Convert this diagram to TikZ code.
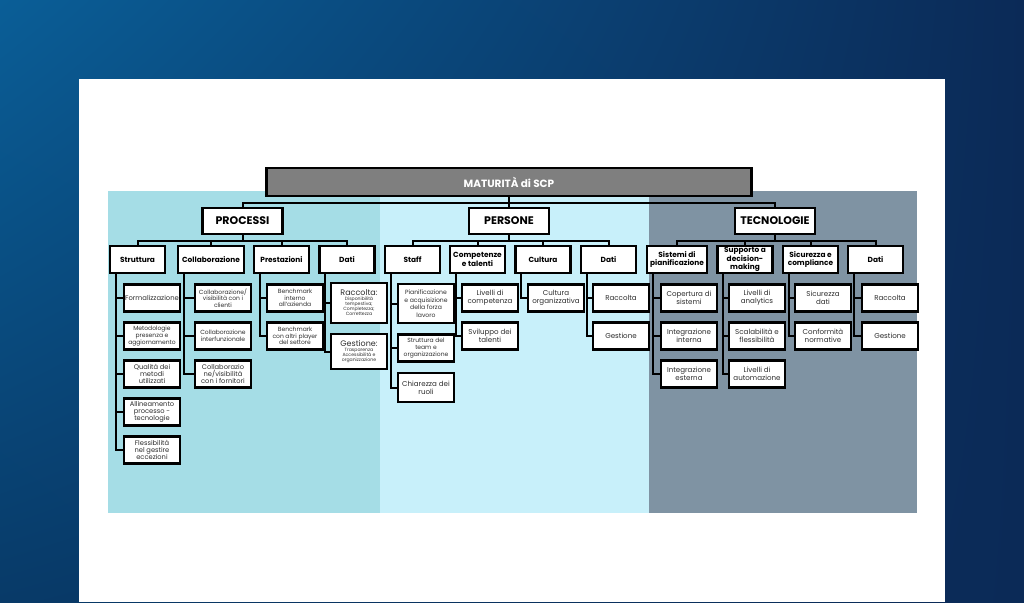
\documentclass[tikz,border=0pt]{standalone}
\usepackage{fontspec}
\setmainfont{Poppins}
\usetikzlibrary{positioning,shadings}
\definecolor{fondoA}{HTML}{0A5E97}
\definecolor{fondoB}{HTML}{0B2A57}
\definecolor{fondoC}{HTML}{083A68}
\definecolor{bandaProc}{HTML}{A5DDE6}
\definecolor{bandaPers}{HTML}{C8F0FA}
\definecolor{bandaTec}{HTML}{7F93A3}
\definecolor{grigioSCP}{HTML}{7F7F7F}
\definecolor{testo}{HTML}{2E2E2E}
\begin{document}
\begin{tikzpicture}[x=1pt,y=-1pt,
    linea/.style={line width=2pt,black},
    radice/.style={draw,line width=2.5pt,fill=grigioSCP,text=white,minimum width=485,minimum height=28,
      font=\bfseries\fontsize{10.5}{11}\selectfont},
    area/.style={draw,line width=2.5pt,fill=white,minimum width=80,minimum height=26,
      font=\bfseries\fontsize{11}{12}\selectfont},
    ramo/.style={draw,line width=2.3pt,fill=white,minimum width=#1,minimum height=27,inner sep=1pt,
      align=center,font=\bfseries\fontsize{7.4}{7.6}\selectfont},
    ramo/.default=55,
    voce/.style={draw,line width=2.3pt,fill=white,minimum width=56,minimum height=27,inner sep=1pt,
      align=center,text=testo,font=\fontsize{7.1}{8}\selectfont},
    fitto/.style={font=\fontsize{6}{6.8}\selectfont},
    medio/.style={font=\fontsize{6.7}{7.2}\selectfont}]
    % Sfondo sfumato e riquadro bianco
    \shade[upper left=fondoA,upper right=fondoB,lower left=fondoC,lower right=fondoB] (0,0) rectangle (1024,602);
    \fill[white] (79,79) rectangle (945,602);

    % Fasce colorate
    \fill[bandaProc] (108,191) rectangle (380,513);
    \fill[bandaPers] (380,191) rectangle (649,513);
    \fill[bandaTec] (649,191) rectangle (917,513);

    % Radice e tre aree
    \node[radice] (hdr) at (509,182) {MATURITÀ di SCP};
    \node[area] (proc) at (242.5,221) {PROCESSI};
    \node[area] (pers) at (509,221) {PERSONE};
    \node[area] (tec) at (775,221) {TECNOLOGIE};
    \foreach \n in {proc,pers,tec}
    \draw[linea] (hdr.south) -- ++(0,6) -| (\n.north);

    % Rami di secondo livello
    \node[ramo] (s1) at (137.5,259.5) {Struttura};
    \node[ramo=66] (s2) at (211,259.5) {Collaborazione};
    \node[ramo] (s3) at (281.5,259.5) {Prestazioni};
    \node[ramo] (s4) at (347,259.5) {Dati};
    \node[ramo] (p1) at (412.5,259.5) {Staff};
    \node[ramo] (p2) at (477.5,259.5) {Competenze\\e talenti};
    \node[ramo] (p3) at (543,259.5) {Cultura};
    \node[ramo] (p4) at (608.5,259.5) {Dati};
    \node[ramo=60] (t1) at (677,259.5) {Sistemi di\\pianificazione};
    \node[ramo] (t2) at (745,259.5) {Supporto a\\decision-\\making};
    \node[ramo] (t3) at (810.5,259.5) {Sicurezza e\\compliance};
    \node[ramo] (t4) at (875.5,259.5) {Dati};
    \foreach \n in {s1,s2,s3,s4}
    \draw[linea] (proc.south) -- ++(0,6) -| (\n.north);
    \foreach \n in {p1,p2,p3,p4}
    \draw[linea] (pers.south) -- ++(0,6) -| (\n.north);
    \foreach \n in {t1,t2,t3,t4}
    \draw[linea] (tec.south) -- ++(0,6) -| (\n.north);

    % Voci dei processi
    \node[voce,font=\fontsize{6.8}{7}\selectfont] (a1) at (152,298) {Formalizzazione};
    \foreach \n/\y/\s/\t in {a2/336/fitto/{Metodologie\\presenza e\\aggiornamento},
      a3/374/medio/{Qualità dei\\metodi\\utilizzati},
      a4/412/medio/{Allineamento\\processo -\\tecnologie},
      a5/450/medio/{Flessibilità\\nel gestire\\eccezioni}}
    \node[voce,\s] (\n) at (152,\y) {\t};
    \foreach \n/\y/\s/\t in {b1/298/fitto/{Collaborazione/\\visibilità con i\\clienti},
      b2/336/fitto/{Collaborazione\\interfunzionale},
      b3/374/medio/{Collaborazio\\ne/visibilità\\con i fornitori}}
    \node[voce,\s] (\n) at (223,\y) {\t};
    \foreach \n/\y/\t in {c1/298/{Benchmark\\interno\\all'azienda},
      c2/336/{Benchmark\\con altri player\\del settore}}
    \node[voce,fitto] (\n) at (295,\y) {\t};
    \node[voce,minimum height=40,font=\fontsize{8}{8.5}\selectfont] (d1) at (359,303) {Raccolta:\\{\fontsize{4.6}{5}\selectfont\begin{tabular}{@{}c@{}}Disponibilità\\tempestiva;\\Completezza;\\Correttezza\end{tabular}}};
    \node[voce,minimum height=35,font=\fontsize{8}{8.5}\selectfont] (d2) at (359,351.5) {Gestione:\\{\fontsize{4.6}{5}\selectfont\begin{tabular}{@{}c@{}}Trasparenza\\Accessibilità e\\organizzazione\end{tabular}}};

    % Voci delle persone
    \node[voce,minimum height=39,font=\fontsize{6.1}{7.6}\selectfont] (e1) at (426,303.5) {Pianificazione\\e acquisizione\\della forza\\lavoro};
    \node[voce,fitto] (e2) at (426,348) {Struttura del\\team e\\organizzazione};
    \node[voce,minimum height=29] (e3) at (426,387.5) {Chiarezza dei\\ruoli};
    \node[voce] (f1) at (490,298) {Livelli di\\competenza};
    \node[voce] (f2) at (490,336) {Sviluppo dei\\talenti};
    \node[voce] (g1) at (556,298) {Cultura\\organizzativa};
    \node[voce] (h1) at (621,298) {Raccolta};
    \node[voce] (h2) at (621,336) {Gestione};

    % Voci delle tecnologie
    \foreach \n/\y/\t in {i1/298/{Copertura di\\sistemi},i2/336/{Integrazione\\interna},i3/374/{Integrazione\\esterna}}
    \node[voce] (\n) at (689,\y) {\t};
    \foreach \n/\y/\t in {j1/298/{Livelli di\\analytics},j2/336/{Scalabilità e\\flessibilità},j3/374/{Livelli di\\automazione}}
    \node[voce] (\n) at (757,\y) {\t};
    \node[voce] (k1) at (823,298) {Sicurezza\\dati};
    \node[voce] (k2) at (823,336) {Conformità\\normative};
    \node[voce] (l1) at (890,298) {Raccolta};
    \node[voce] (l2) at (890,336) {Gestione};

    % Collegamenti di terzo livello
    \foreach \p/\lista in {s1/{a1,a2,a3,a4,a5},s2/{b1,b2,b3},s3/{c1,c2},s4/{d1,d2},
      p1/{e1,e2,e3},p2/{f1,f2},p3/{g1},p4/{h1,h2},
      t1/{i1,i2,i3},t2/{j1,j2,j3},t3/{k1,k2},t4/{l1,l2}}
    \foreach \n in \lista
    \draw[linea] ([xshift=7pt]\p.south west) |- (\n.west);
\end{tikzpicture}
\end{document}
